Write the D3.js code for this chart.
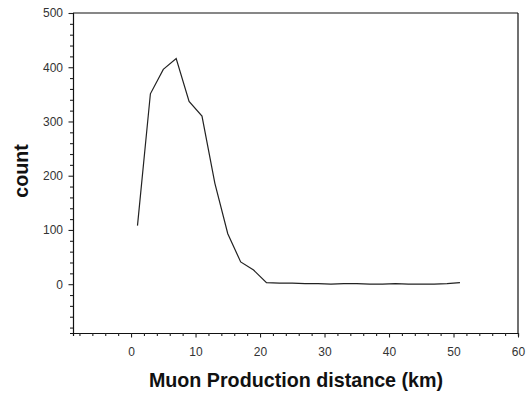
<!DOCTYPE html>
<html>
<head>
<meta charset="utf-8">
<script src="https://cdn.jsdelivr.net/npm/d3@7"></script>
<style>
  body { margin: 0; background: #fff; }
  svg text { font-family: "Liberation Sans", Arial, sans-serif; }
</style>
</head>
<body>
<div id="chart"></div>
<script>
// distance bins (km) and muon counts
const distance = [1, 3, 5, 7, 9, 11, 13, 15, 17, 19, 21, 23, 25, 27, 29, 31, 33, 35, 37, 39, 41, 43, 45, 47, 49, 51];
const count = [108, 351, 396, 416, 337, 310, 186, 93, 41, 26, 3, 2, 2, 1, 1, 0, 1, 1, 0, 0, 1, 0, 0, 0, 1, 3];
const xTicks = [0, 10, 20, 30, 40, 50, 60];
const yTicks = [0, 100, 200, 300, 400, 500];

const width = 530, height = 393;
const margin = { top: 13, right: 12, bottom: 60, left: 73 };

const svg = d3.select("#chart").append("svg")
  .attr("width", width)
  .attr("height", height);

const x = d3.scaleLinear().domain([-9, 60]).range([margin.left, width - margin.right]);
const y = d3.scaleLinear().domain([-90, 500]).range([height - margin.bottom, margin.top]);

const xAxisG = svg.append("g")
  .attr("transform", "translate(0," + (height - margin.bottom) + ")");
xAxisG.call(d3.axisBottom(x).tickValues(d3.range(-8, 61, 2)).tickSize(3).tickFormat(""));
xAxisG.call(g => g.selectAll(".tick").filter(d => d % 10 === 0).select("line").attr("y2", 4.5));
xAxisG.append("g").call(d3.axisBottom(x).tickValues(xTicks).tickSize(0).tickPadding(14))
  .call(g => g.select(".domain").remove());

const yAxisG = svg.append("g")
  .attr("transform", "translate(" + margin.left + ",0)");
yAxisG.call(d3.axisLeft(y).tickValues(d3.range(-80, 501, 20)).tickSize(3).tickFormat(""));
yAxisG.call(g => g.selectAll(".tick").filter(d => d % 100 === 0).select("line").attr("x2", -4.5));
yAxisG.append("g").call(d3.axisLeft(y).tickValues(yTicks).tickSize(0).tickPadding(10))
  .call(g => g.select(".domain").remove());

svg.selectAll(".domain").attr("stroke", "#111").attr("stroke-width", 1.2);
svg.selectAll(".tick line").attr("stroke", "#222").attr("stroke-width", 1.1);
svg.selectAll(".tick text").attr("font-size", 12).attr("fill", "#333");

// top and right frame
svg.append("line")
  .attr("x1", x(-9)).attr("x2", x(60)).attr("y1", y(500)).attr("y2", y(500))
  .attr("stroke", "#111").attr("stroke-width", 1.2);
svg.append("line")
  .attr("x1", x(60)).attr("x2", x(60)).attr("y1", y(500)).attr("y2", y(-90))
  .attr("stroke", "#111").attr("stroke-width", 1.2);

const line = d3.line()
  .x((d, i) => x(distance[i]))
  .y(d => y(d));

svg.append("path")
  .datum(count)
  .attr("d", line)
  .attr("fill", "none")
  .attr("stroke", "#222")
  .attr("stroke-width", 1.2);

svg.append("text")
  .attr("x", 296)
  .attr("y", 387)
  .attr("text-anchor", "middle")
  .attr("font-size", 19.7)
  .attr("font-weight", "bold")
  .attr("fill", "#111")
  .text("Muon Production distance (km)");

svg.append("text")
  .attr("transform", "translate(28,171) rotate(-90)")
  .attr("text-anchor", "middle")
  .attr("font-size", 19.7)
  .attr("font-weight", "bold")
  .attr("fill", "#111")
  .text("count");
</script>
</body>
</html>
